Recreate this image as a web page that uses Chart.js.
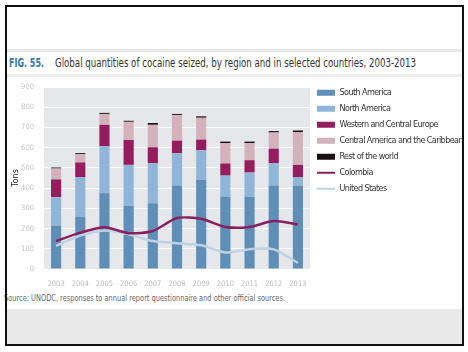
<!DOCTYPE html>
<html>
<head>
<meta charset="utf-8">
<script src="https://cdn.jsdelivr.net/npm/chart.js@4/dist/chart.umd.min.js"></script>
<style>
  html, body { margin: 0; padding: 0; background: #fff; }
  body { width: 468px; height: 352px; position: relative; overflow: hidden;
         font-family: "DejaVu Sans Condensed", sans-serif; }
  .abs { position: absolute; white-space: nowrap; transform-origin: left center; }
  #frame { position: absolute; left: 5px; top: 5px; width: 459px; height: 341px;
           border: 2px solid #111; box-sizing: border-box; z-index: 5; }
  #band1 { position: absolute; left: 7px; top: 49px; width: 455px; height: 3px; background: #e8e8e8; }
  #band2 { position: absolute; left: 7px; top: 74px; width: 455px; height: 3px; background: #ececec; }
  #foot { position: absolute; left: 7px; top: 309px; width: 455px; height: 35px; background: #e9e9e9; }
  #fig { left: 9px; top: 56px; font-size: 12px; font-weight: bold; color: #3a74ad; }
  #title { left: 55px; top: 56px; font-size: 12px; color: #333; }
  #source { left: 4px; top: 292px; font-size: 9.5px; color: #666; }
  #wrap { position: absolute; left: 0; top: 70px; width: 462px; height: 230px; overflow: hidden; }
</style>
</head>
<body>
<div id="band1"></div>
<div id="band2"></div>
<div id="foot"></div>
<div id="fig" class="abs">FIG. 55.</div>
<div id="title" class="abs">Global quantities of cocaine seized, by region and in selected countries, 2003-2013</div>
<div id="source" class="abs">Source: UNODC, responses to annual report questionnaire and other official sources.</div>
<div id="wrap"><canvas id="chart" width="462" height="230"></canvas></div>
<div id="frame"></div>
<script>
// Données (tonnes)
const YEARS = ['2003', '2004', '2005', '2006', '2007', '2008', '2009', '2010', '2011', '2012', '2013'];
const SOUTH_AMERICA = [215, 257, 375, 312, 325, 413, 440, 358, 357, 413, 412];
const NORTH_AMERICA = [140, 198, 232, 203, 198, 160, 147, 104, 120, 110, 43];
const WEST_CENTRAL_EUROPE = [88, 72, 106, 123, 79, 62, 53, 60, 61, 72, 60];
const CENTRAL_AMERICA_CARIB = [54, 41, 54, 90, 111, 127, 108, 101, 85, 80, 162];
const REST_OF_WORLD = [5, 5, 5, 5, 9, 5, 7, 7, 7, 7, 8];
const COLOMBIA = [138, 180, 207, 177, 188, 252, 248, 208, 208, 237, 220];
const UNITED_STATES = [115, 165, 190, 172, 138, 127, 117, 82, 98, 97, 30];
const Y_TICKS = [0, 100, 200, 300, 400, 500, 600, 700, 800, 900];

const FONT = '"DejaVu Sans Condensed", sans-serif';

// Ajuste la largeur des textes HTML à celle de la référence
function fitWidth(id, w) {
    const el = document.getElementById(id);
    const r = el.getBoundingClientRect().width;
    el.style.transform = 'scaleX(' + (w / r) + ')';
}
fitWidth('fig', 35);
fitWidth('title', 361);
fitWidth('source', 281);

// Fond gris de la zone de tracé
const plotBg = {
    id: 'plotBg',
    beforeDraw(chart) {
        const { ctx, chartArea: a } = chart;
        ctx.save();
        ctx.fillStyle = '#e5e7ea';
        ctx.fillRect(a.left, a.top, a.right - a.left, a.bottom - a.top);
        ctx.restore();
    }
};

// Légende plus serrée (police condensée de l'original)
const tightLegend = {
    id: 'tightLegend',
    afterLayout(chart) {
        const lg = chart.legend;
        if (!lg || lg._tight) return;
        const orig = lg.draw.bind(lg);
        lg.draw = function (area) {
            chart.ctx.save();
            chart.ctx.letterSpacing = '-0.6px';
            orig(area);
            chart.ctx.restore();
        };
        lg._tight = true;
    }
};

function bar(label, data, color) {
    return { type: 'bar', label, data, backgroundColor: color, borderWidth: 0,
             stack: 'regions', order: 1, barPercentage: 0.42, categoryPercentage: 1 };
}
function line(label, data, color, stack) {
    return { type: 'line', label, data, borderColor: color, backgroundColor: color,
             borderWidth: 2.5, pointRadius: 0, tension: 0.25, stack, order: 0 };
}

new Chart(document.getElementById('chart'), {
    data: {
        labels: YEARS,
        datasets: [
            bar('South America', SOUTH_AMERICA, '#5f8eb8'),
            bar('North America', NORTH_AMERICA, '#8fb6d9'),
            bar('Western and Central Europe', WEST_CENTRAL_EUROPE, '#951c5f'),
            bar('Central America and the Caribbean', CENTRAL_AMERICA_CARIB, '#d3b2bc'),
            bar('Rest of the world', REST_OF_WORLD, '#1a1014'),
            line('Colombia', COLOMBIA, '#8a1f5e', 'col'),
            line('United States', UNITED_STATES, '#bfd1e2', 'us')
        ]
    },
    options: {
        responsive: false,
        animation: false,
        devicePixelRatio: 1,
        layout: { padding: { top: 11.2, left: 0, right: 0, bottom: 0 } },
        scales: {
            x: {
                stacked: true,
                grid: { display: false, drawTicks: false },
                border: { display: false },
                ticks: { color: '#b9bcc0', font: { family: FONT, size: 7.5 }, padding: 11, maxRotation: 0 }
            },
            y: {
                stacked: true,
                min: 0,
                max: 900,
                afterFit(scale) { scale.width = 44; },
                afterBuildTicks(scale) { scale.ticks = Y_TICKS.map(v => ({ value: v })); },
                grid: { color: '#ffffff', lineWidth: 1, drawTicks: false },
                border: { display: false },
                ticks: { color: '#c3c5c8', font: { family: FONT, size: 7.5, lineHeight: 1.87 }, padding: 10 },
                title: { display: true, text: 'Tons', color: '#222', font: { family: FONT, size: 9 },
                         padding: { top: 10, bottom: 0 } }
            }
        },
        plugins: {
            tooltip: { enabled: false },
            legend: {
                position: 'right',
                align: 'start',
                maxWidth: 152,
                labels: {
                    usePointStyle: true,
                    pointStyleWidth: 18,
                    boxHeight: 6,
                    padding: 7,
                    color: '#333',
                    font: { family: FONT, size: 9 },
                    sort: (a, b) => a.datasetIndex - b.datasetIndex,
                    generateLabels(chart) {
                        const items = Chart.defaults.plugins.legend.labels.generateLabels(chart);
                        items.forEach(it => {
                            const ds = chart.data.datasets[it.datasetIndex];
                            if (ds.type === 'line') {
                                it.pointStyle = 'line';
                                it.lineWidth = 2;
                                it.strokeStyle = ds.borderColor;
                            } else {
                                it.pointStyle = 'rect';
                                it.lineWidth = 0;
                                it.fillStyle = ds.backgroundColor;
                            }
                        });
                        return items;
                    }
                }
            }
        }
    },
    plugins: [plotBg, tightLegend]
});
</script>
</body>
</html>
